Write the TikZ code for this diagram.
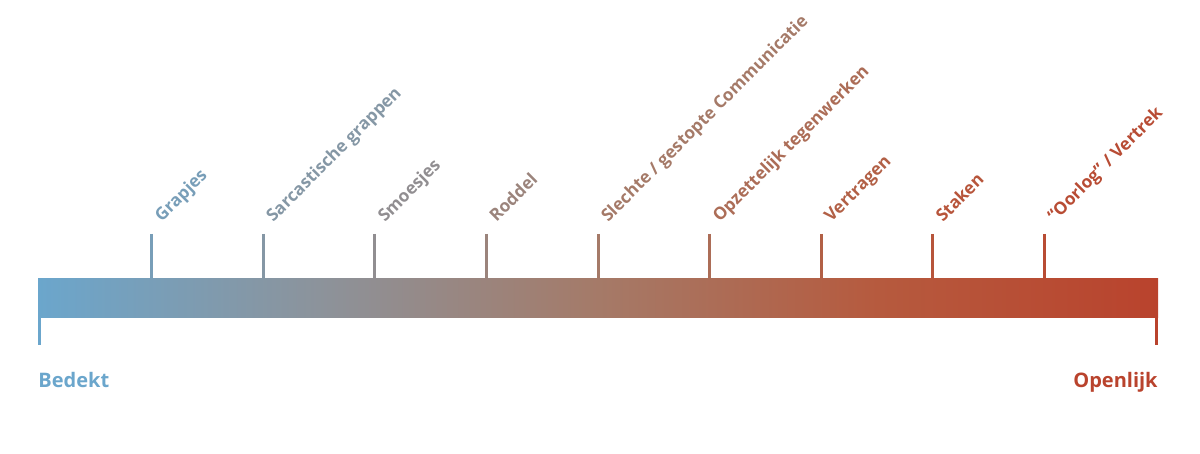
\documentclass[tikz,border=0pt]{standalone}
\usepackage{fontspec}
\setmainfont{Open Sans}
\definecolor{bedekt}{RGB}{107,166,204}
\definecolor{grijs}{RGB}{140,147,155}
\definecolor{midden}{RGB}{165,122,104}
\definecolor{warm}{RGB}{182,90,62}
\definecolor{openlijk}{RGB}{185,67,45}
\pgfdeclarehorizontalshading{balkverloop}{100bp}{color(0bp)=(bedekt); color(25bp)=(bedekt);
  color(37.5bp)=(grijs); color(50bp)=(midden); color(62.5bp)=(warm);
  color(75bp)=(openlijk); color(100bp)=(openlijk)}
\begin{document}
\begin{tikzpicture}[x=0.5pt,y=-0.5pt,
  streep/.style={line width=1.5pt},
  etiket/.style={rotate=45,anchor=base west,inner sep=0pt,font=\bfseries\fontsize{8.6}{10}\selectfont},
  eind/.style={inner sep=0pt,font=\bfseries\fontsize{10}{12}\selectfont}]
  \useasboundingbox (0,0) rectangle (1200,454);
  % balk
  \shade[shading=balkverloop] (38,279) rectangle (1158,318);
  % eindstrepen
  \draw[streep,bedekt] (39.5,317) -- (39.5,345);
  \draw[streep,openlijk] (1156.5,317) -- (1156.5,345);
  \node[eind,anchor=base west,text=bedekt] (bedekt) at (38,387) {Bedekt};
  \node[eind,anchor=base east,text=openlijk] (openlijk) at (1158,387) {Openlijk};
  % streepjes met labels
  \foreach \i/\tekst in {1/Grapjes, 2/Sarcastische grappen, 3/Smoesjes, 4/Roddel,
      5/{Slechte / gestopte Communicatie}, 6/Opzettelijk tegenwerken,
      7/Vertragen, 8/Staken, 9/{“Oorlog” / Vertrek}} {
    \pgfmathsetmacro{\xx}{40+\i*111.6}
    \pgfmathtruncatemacro{\seg}{\i*4/10}
    \pgfmathtruncatemacro{\pct}{(\i*4-\seg*10)*10}
    \edef\vanaf{\ifcase\seg bedekt\or grijs\or midden\or warm\fi}
    \edef\naar{\ifcase\seg grijs\or midden\or warm\or openlijk\fi}
    \colorlet{kleur}{\naar!\pct!\vanaf}
    \draw[streep,kleur] (\xx,234) -- (\xx,279.5);
    \node[etiket,text=kleur] (label\i) at (\xx+10,223) {\tekst};
  }
\end{tikzpicture}
\end{document}
